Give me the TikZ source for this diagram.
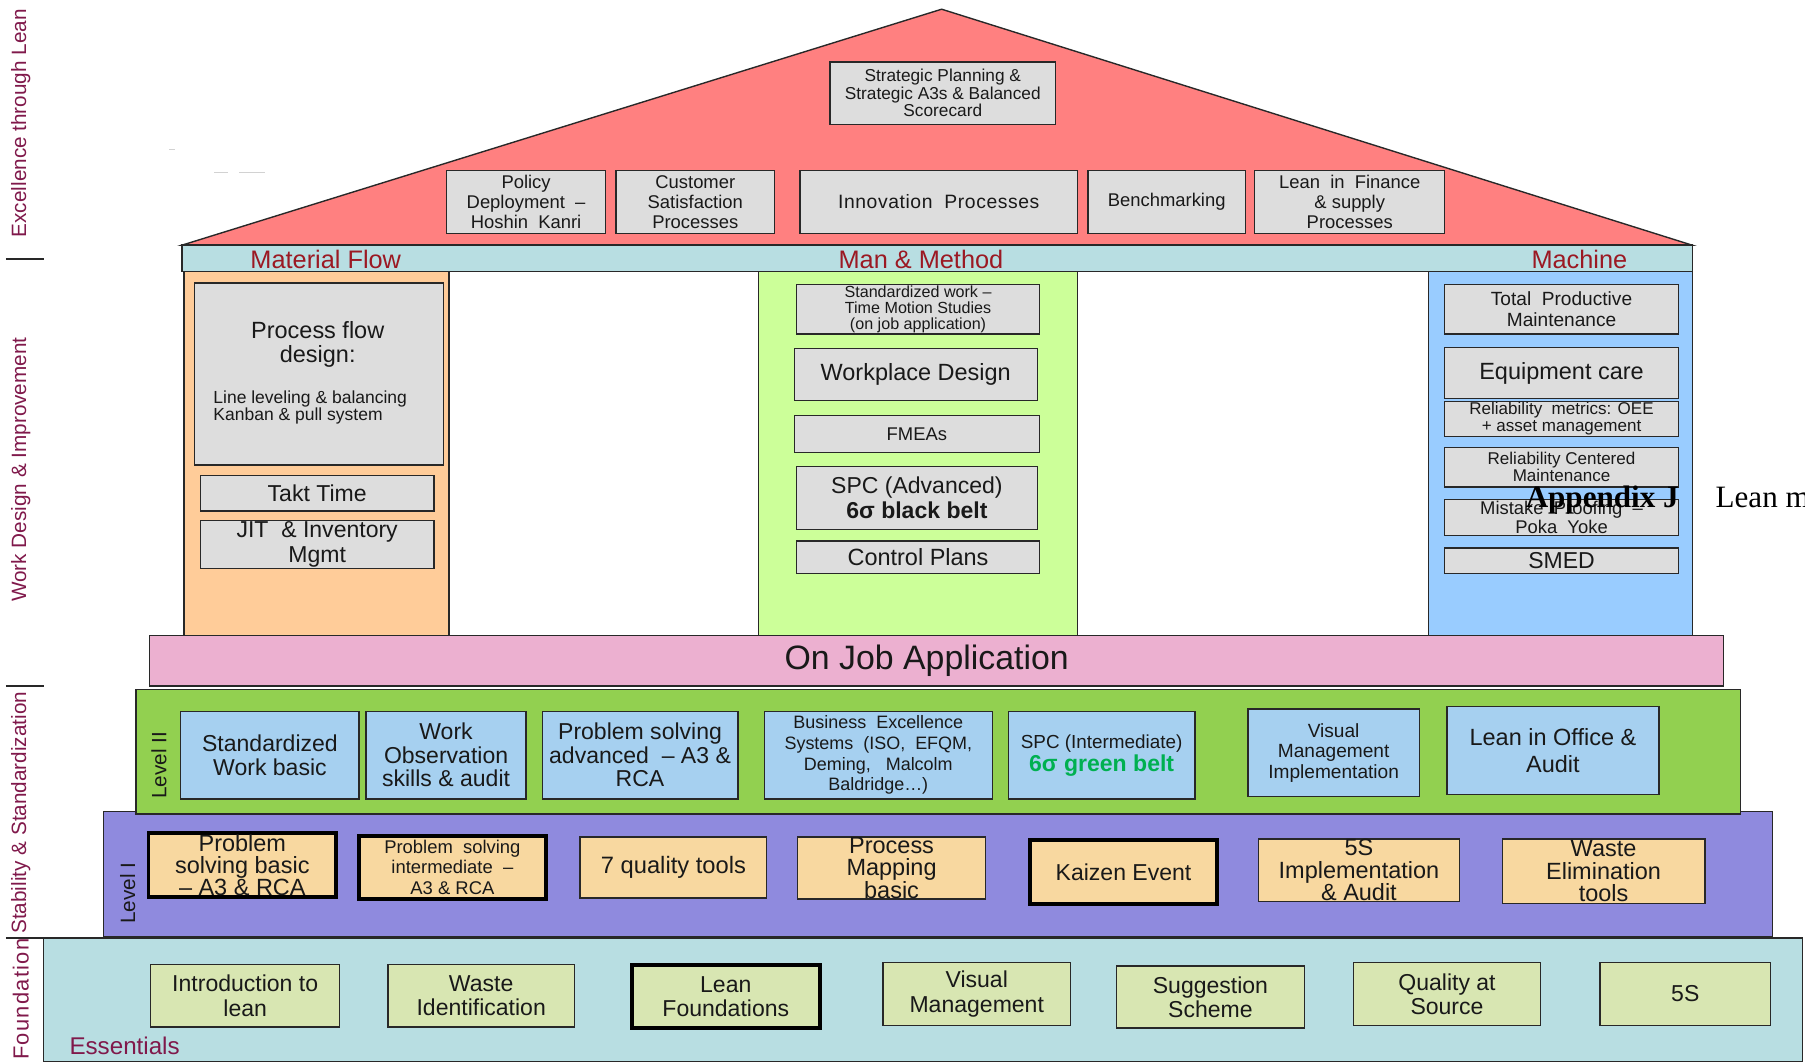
\documentclass[tikz,border=0pt]{standalone}
\usepackage{fontspec}
\setmainfont{Liberation Sans}
\newfontfamily\serifface{Liberation Serif}

\definecolor{roofred}{RGB}{255,128,128}
\definecolor{boxgrey}{RGB}{221,221,221}
\definecolor{beam}{RGB}{184,222,226}
\definecolor{colorange}{RGB}{255,204,153}
\definecolor{colgreen}{RGB}{204,255,153}
\definecolor{colblue}{RGB}{153,204,255}
\definecolor{ojapink}{RGB}{236,176,208}
\definecolor{lvltwo}{RGB}{146,208,80}
\definecolor{lvltwobox}{RGB}{166,208,240}
\definecolor{lvlone}{RGB}{143,138,222}
\definecolor{lvlonebox}{RGB}{248,216,160}
\definecolor{basebox}{RGB}{216,230,178}
\definecolor{plum}{RGB}{128,25,75}
\definecolor{beamtext}{RGB}{155,25,35}
\definecolor{beltgreen}{RGB}{0,176,80}
\definecolor{edge}{RGB}{40,40,40}
\definecolor{ink}{RGB}{25,25,25}

% font size with explicit line spacing
\newcommand\fsz[2]{\fontsize{#1}{#2}\selectfont}

% box from corner (#4,#5) to (#6,#7), style #1, text font #2, name #3, text #8
\newcommand\drawbox[8]{%
  \pgfmathsetmacro\dbw{0.5*(#6-#4)}%
  \pgfmathsetmacro\dbh{0.5*(#7-#5)}%
  \node[#1, minimum width=\dbw pt, minimum height=\dbh pt] (#3) at ({(#4+#6)/2},{(#5+#7)/2}) {};
  \node[txt, font=#2] (#3-t) at (#3.center) {#8};}

\begin{document}
\begin{tikzpicture}[x=0.5pt,y=-0.5pt,
  panel/.style={draw=edge, line width=0.6pt, inner sep=0pt},
  gbox/.style={panel, fill=boxgrey},
  twobox/.style={panel, fill=lvltwobox},
  onebox/.style={panel, fill=lvlonebox},
  basefill/.style={panel, fill=basebox},
  heavy/.style={line width=1.7pt, draw=black},
  txt/.style={inner sep=0pt, align=center, text=ink},
  beamlabel/.style={inner sep=0pt, text=beamtext, font=\fsz{11}{13}},
  sidelabel/.style={inner sep=0pt, text=plum, rotate=90, font=\fsz{9}{11}},
  levellabel/.style={inner sep=0pt, text=ink, rotate=90, font=\fsz{9}{11}},
  tick/.style={draw=edge, line width=0.6pt}]

\useasboundingbox (0,0) rectangle (1568,924);

% ---------- side captions ----------
\node[sidelabel] (exc) at (18,107) {Excellence through Lean};
\node[sidelabel] (wdi) at (18,408) {Work Design \& Improvement};
\node[sidelabel] (sas) at (18,706) {Stability \& Standardization};
\node[sidelabel, font=\fsz{9.5}{11}\addfontfeature{LetterSpace=6}] (fnd) at (18,868) {Foundation};
\coordinate (t1a) at (5,225);  \coordinate (t1b) at (38,225);
\coordinate (t2a) at (5,596);  \coordinate (t2b) at (38,596);
\coordinate (t3a) at (5,815);  \coordinate (t3b) at (38,815);
\draw[tick] (t1a) -- (t1b);
\draw[tick] (t2a) -- (t2b);
\draw[tick] (t3a) -- (t3b);

% faint specks
\draw[gray!35, line width=0.5pt] (147,130) -- (152,130);
\draw[gray!35, line width=0.5pt] (186,150) -- (198,150);
\draw[gray!35, line width=0.5pt] (208,150) -- (230,150);

% ---------- roof ----------
\coordinate (roofL) at (158,213);
\coordinate (apex) at (818,8);
\coordinate (roofR) at (1470,213);
\draw[draw=edge, line width=0.6pt, fill=roofred] (roofL) -- (apex) -- (roofR) -- cycle;

\drawbox{gbox}{\fsz{7.5}{7.6}}{strat}{721}{54}{917}{108}{Strategic Planning \&\\Strategic A3s \& Balanced\\Scorecard}
\drawbox{gbox}{\fsz{8}{8.8}}{policy}{388}{148}{526}{203}{Policy\\Deployment \ –\\Hoshin \ Kanri}
\drawbox{gbox}{\fsz{8}{8.8}}{cust}{535}{148}{673}{203}{Customer\\Satisfaction\\Processes}
\drawbox{gbox}{\fsz{8.4}{9}\addfontfeature{LetterSpace=3}}{innov}{695}{148}{936}{203}{Innovation \ Processes}
\drawbox{gbox}{\fsz{8}{9}}{bench}{945}{148}{1082}{203}{Benchmarking}
\drawbox{gbox}{\fsz{8}{8.8}}{finance}{1090}{148}{1255}{203}{Lean \ in \ Finance\\\& supply\\Processes}

% ---------- beam ----------
\drawbox{panel, fill=beam}{\fsz{8}{9}}{beamrow}{158}{213}{1470}{236}{}
\node[beamlabel] (mflow) at (283,225) {Material Flow};
\node[beamlabel] (mmeth) at (800,225) {Man \& Method};
\node[beamlabel] (mach) at (1372,225) {Machine};

% ---------- pillars ----------
\drawbox{panel, fill=colorange}{\fsz{8}{9}}{colA}{160}{236}{390}{552}{}
\drawbox{panel, fill=colgreen}{\fsz{8}{9}}{colB}{659}{236}{936}{552}{}
\drawbox{panel, fill=colblue}{\fsz{8}{9}}{colC}{1241}{236}{1470}{552}{}

% material flow pillar
\drawbox{gbox}{\fsz{10.2}{10.5}}{pfd}{169}{246}{385}{404}{}
\node[txt, font=\fsz{10.2}{10.6}] (pfdhead) at (276,299) {Process flow\\design:};
\node[txt, font=\fsz{7.6}{7.2}, align=left, anchor=west] (pfdlist) at (185,354) {Line leveling \& balancing\\Kanban \& pull system};
\drawbox{gbox}{\fsz{10}{11}}{takt}{174}{413}{377}{444}{Takt Time}
\drawbox{gbox}{\fsz{10}{10.5}}{jit}{174}{452}{377}{494}{JIT \ \& Inventory\\Mgmt}

% man & method pillar
\drawbox{gbox}{\fsz{7}{7}}{stdwork}{692}{247}{903}{290}{Standardized work –\\Time Motion Studies\\(on job application)}
\drawbox{gbox}{\fsz{10.2}{11}}{wpd}{690}{303}{901}{348}{Workplace Design}
\drawbox{gbox}{\fsz{8}{9}}{fmea}{690}{361}{903}{393}{FMEAs}
\drawbox{gbox}{\fsz{10}{11}}{spcadv}{692}{405}{901}{460}{SPC (Advanced)\\\textbf{6σ black belt}}
\drawbox{gbox}{\fsz{10.2}{11}}{ctrl}{692}{470}{903}{498}{Control Plans}

% machine pillar
\drawbox{gbox}{\fsz{8.3}{9}}{tpm}{1255}{247}{1458}{290}{Total \ Productive\\Maintenance}
\drawbox{gbox}{\fsz{10.2}{11}}{equip}{1255}{302}{1458}{346}{Equipment care}
\drawbox{gbox}{\fsz{7.4}{7.4}}{relm}{1255}{349}{1458}{379}{Reliability \ metrics: OEE\\+ asset management}
\drawbox{gbox}{\fsz{7.4}{7.4}}{rcm}{1255}{389}{1458}{423}{Reliability Centered\\Maintenance}
\drawbox{gbox}{\fsz{8}{8}}{poka}{1255}{434}{1458}{465}{Mistake \ Proofing \ –\\Poka \ Yoke}
\drawbox{gbox}{\fsz{10}{11}}{smed}{1255}{476}{1458}{498}{SMED}

% running heading of the page
\node[inner sep=0pt, anchor=base west, font=\serifface\fsz{13.5}{15}\bfseries, text=black] (appx) at (1325,441) {Appendix J};
\node[inner sep=0pt, anchor=base west, font=\serifface\fsz{13.5}{15}, text=black] (appxtitle) at (1490,441) {Lean m};

% ---------- on job application ----------
\drawbox{panel, fill=ojapink}{\fsz{8}{9}}{oja}{130}{552}{1497}{596}{}
\node[txt, font=\fsz{14.7}{16}] (ojatext) at (805,574) {On Job Application};

% ---------- level I ----------
\drawbox{panel, fill=lvlone}{\fsz{8}{9}}{lvI}{90}{705}{1540}{814}{}
\node[levellabel] (lvIlab) at (111,776) {Level I};
\drawbox{onebox, heavy}{\fsz{10.2}{9.6}}{psb}{129}{724}{292}{779}{Problem\\solving basic\\– A3 \& RCA}
\drawbox{onebox, heavy}{\fsz{8}{8.8}}{psi}{312}{726}{474}{781}{Problem \ solving\\intermediate \ –\\A3 \& RCA}
\drawbox{onebox}{\fsz{10.3}{11}}{qt}{504}{727}{666}{780}{7 quality tools}
\drawbox{onebox}{\fsz{10.2}{9.8}}{pm}{693}{727}{856}{781}{Process\\Mapping\\basic}
\drawbox{onebox, heavy}{\fsz{10}{11}}{kaizen}{895}{730}{1057}{785}{Kaizen Event}
\drawbox{onebox}{\fsz{10.2}{9.8}}{fives}{1093}{729}{1268}{783}{5S\\Implementation\\\& Audit}
\drawbox{onebox}{\fsz{10.2}{9.8}}{waste}{1305}{729}{1481}{785}{Waste\\Elimination\\tools}

% ---------- level II ----------
\drawbox{panel, fill=lvltwo}{\fsz{8}{9}}{lvII}{118}{599}{1512}{707}{}
\node[levellabel] (lvIIlab) at (138,665) {Level II};
\drawbox{twobox}{\fsz{10}{10.2}}{swb}{157}{618}{312}{694}{Standardized\\Work basic}
\drawbox{twobox}{\fsz{10}{10.2}}{wos}{318}{618}{457}{694}{Work\\Observation\\skills \& audit}
\drawbox{twobox}{\fsz{10}{10.2}}{psa}{471}{618}{641}{694}{Problem solving\\advanced \ – A3 \&\\RCA}
\drawbox{twobox}{\fsz{7.8}{9}}{bex}{664}{618}{862}{694}{Business \ Excellence\\Systems \ (ISO, \ EFQM,\\Deming, \ \ Malcolm\\Baldridge…)}
\drawbox{twobox}{\fsz{8.2}{8}}{spci}{876}{618}{1038}{694}{SPC (Intermediate)\\{\color{beltgreen}\fsz{10}{10}\bfseries 6σ green belt}}
\drawbox{twobox}{\fsz{8.3}{8.8}}{vmi}{1084}{616}{1233}{692}{Visual\\Management\\Implementation}
\drawbox{twobox}{\fsz{10.2}{11.5}}{lio}{1257}{614}{1441}{690}{Lean in Office \&\\Audit}

% ---------- foundation ----------
\drawbox{panel, fill=beam}{\fsz{8}{9}}{found}{38}{815}{1566}{922}{}
\node[inner sep=0pt, anchor=base west, text=plum, font=\fsz{10.5}{12}] (ess) at (60,916) {Essentials};
\drawbox{basefill}{\fsz{10}{10.5}}{intro}{131}{838}{295}{892}{Introduction to\\lean}
\drawbox{basefill}{\fsz{10}{10.5}}{wid}{337}{838}{499}{892}{Waste\\Identification}
\drawbox{basefill, heavy}{\fsz{10}{10.5}}{lfound}{549}{838}{712}{893}{Lean\\Foundations}
\drawbox{basefill}{\fsz{10}{10.5}}{vman}{767}{836}{930}{891}{Visual\\Management}
\drawbox{basefill}{\fsz{10}{10.5}}{sugg}{970}{839}{1133}{893}{Suggestion\\Scheme}
\drawbox{basefill}{\fsz{10}{10.5}}{qas}{1176}{836}{1338}{891}{Quality at\\Source}
\drawbox{basefill}{\fsz{10}{10.5}}{fiveS}{1390}{836}{1538}{891}{5S}

\end{tikzpicture}
\end{document}
